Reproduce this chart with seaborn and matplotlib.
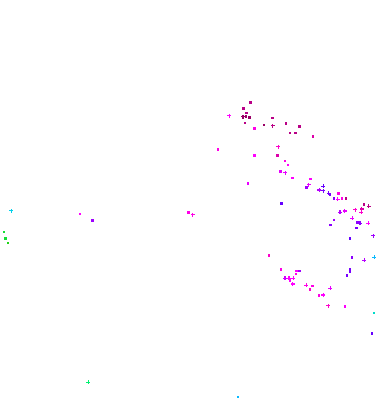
import numpy as np
import pandas as pd
import seaborn as sns
import matplotlib
matplotlib.use("Agg")
import matplotlib.pyplot as plt
from matplotlib.colors import LinearSegmentedColormap

x = [250.7, 243.7, 246.7, 229.3, 243, 246, 249.3, 245, 272.7, 272.7, 286, 264, 299.7, 254.7, 290, 295.3, 313,
     218, 278.3, 254.7, 277.3, 285, 288, 280.7, 285.3, 292.7, 310.7, 248, 308.7, 306.7, 323.3, 319.3, 323.3,
     328.7, 330, 338.7, 334, 337.7, 342, 346, 281.7, 340, 344.7, 355.3, 361.7, 361.3, 364, 368.7, 352.3, 334,
     357.3, 360, 368.3, 330.7, 356.3, 373.3, 350, 352, 364.3, 374.3, 269, 350, 350, 347, 281, 296.7, 299.7,
     296, 285, 289, 293.3, 290, 292.7, 306.3, 312.7, 310, 330.3, 323.3, 319, 328.3, 345, 11.3, 80, 92.3,
     188.7, 192.7, 4, 5.7, 8, 88.3, 238, 374, 372]
y = [103.3, 109.7, 114, 116.7, 117.7, 117.7, 118.3, 124, 119, 126.7, 124.7, 126, 127.7, 129.3, 134, 134, 137.7,
     150.7, 147.7, 156.7, 156.3, 162, 166, 172.3, 173.7, 179, 180, 184.3, 185.7, 188.7, 187.3, 191, 191.7,
     194.3, 195.3, 194.7, 199.7, 200.3, 199.3, 199.3, 204.3, 213.3, 212, 210.7, 210, 213.3, 205.7, 207.3, 219.3, 221,
     223.3, 224.3, 224.3, 226, 229, 236.7, 239.3, 258.3, 261.3, 258.3, 256.7, 270, 272.7, 276.7, 270.7, 272, 272,
     275, 279.3, 279.3, 279.3, 281.3, 285, 286.3, 287, 290.7, 289.3, 296, 296.7, 306.7, 307.7, 211.7, 215, 221.7,
     213.7, 215.7, 233, 239.7, 244, 383.3, 398, 314, 334.3]
value = [0.95, 0.95, 0.95, 0.75, 1.0, 1.0, 1.0, 0.95, 0.95, 0.95, 0.95, 1.0, 0.95, 0.8, 0.95, 0.95, 0.9,
         0.8, 0.85, 0.75, 0.9, 0.8, 0.75, 0.7, 0.7, 0.75, 0.75, 0.7, 0.7, 0.55, 0.4, 0.6, 0.45,
         0.45, 0.45, 0.8, 0.5, 0.75, 0.8, 0.95, 0.4, 0.6, 0.7, 0.85, 0.9, 0.85, 0.95, 0.95, 0.7, 0.55,
         0.5, 0.5, 0.75, 0.5, 0.45, 0.55, 0.4, 0.5, 0.6, 0.2, 0.85, 0.45, 0.45, 0.45, 0.8, 0.75, 0.55,
         0.8, 0.65, 0.75, 0.75, 0.75, 0.75, 0.8, 0.8, 0.85, 0.7, 0.75, 0.8, 0.85, 0.75, 0.17, 0.75, 0.55,
         0.8, 0.8, 0.05, 0.05, 0.02, 0.1, 0.2, 0.15, 0.4]
kind = ["s", "s", "s", "P", "P", "s", "s", "s", "s", "P", "s", "s", "s", "s", "s", "s", "s",
        "s", "P", "s", "s", "s", "s", "s", "P", "s", "s", "s", "P", "s", "P", "P", "P",
        "P", "s", "s", "s", "P", "s", "s", "s", "P", "P", "P", "P", "P", "s", "P", "P", "s",
        "s", "P", "P", "s", "s", "P", "s", "s", "P", "P", "s", "s", "s", "s", "s", "s", "s",
        "s", "P", "P", "P", "s", "P", "P", "s", "s", "P", "P", "s", "P", "s", "P", "s", "s",
        "s", "P", "s", "s", "s", "P", "s", "s", "s"]

df = pd.DataFrame({"x": x, "y": y, "value": value, "kind": kind})

cmap = LinearSegmentedColormap.from_list("c", [
    (0.0, (0.15, 0.80, 0.0)),
    (0.10, (0.0, 0.95, 0.45)),
    (0.18, (0.0, 0.80, 1.0)),
    (0.40, (0.40, 0.0, 1.0)),
    (0.55, (0.62, 0.0, 1.0)),
    (0.75, (1.0, 0.0, 1.0)),
    (0.85, (1.0, 0.0, 0.80)),
    (1.0, (0.60, 0.0, 0.40)),
])

fig = plt.figure(figsize=(3.78, 4.06), dpi=100)
ax = fig.add_axes([0, 0, 1, 1])
sns.scatterplot(data=df, x="x", y="y", hue="value", hue_norm=(0, 1), palette=cmap,
                style="kind", markers={"s": "s", "P": "P"},
                size="kind", sizes={"s": 3.2, "P": 7.5}, linewidth=0,
                legend=False, ax=ax)
ax.set_xlim(0, 378)
ax.set_ylim(406, 0)
ax.axis("off")
fig.savefig("out.png", dpi=100)
